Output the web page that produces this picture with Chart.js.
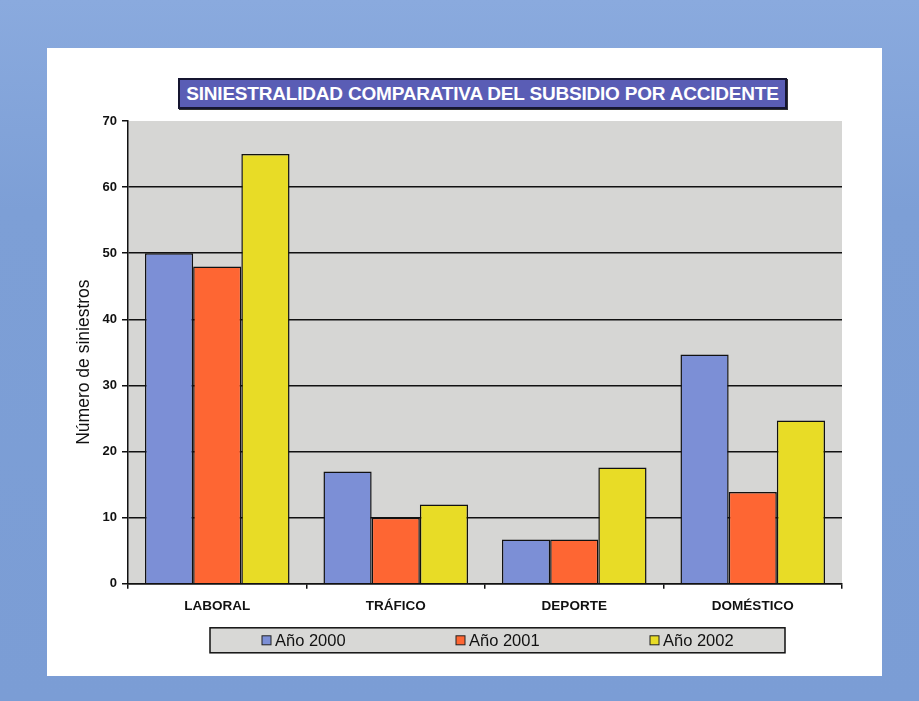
<!DOCTYPE html>
<html>
<head>
<meta charset="utf-8">
<script src="https://cdn.jsdelivr.net/npm/chart.js@4.4.1/dist/chart.umd.min.js"></script>
<style>
  html, body { margin: 0; padding: 0; }
  body {
    width: 919px; height: 701px; overflow: hidden; position: relative;
    background: linear-gradient(#8aaade, #7d9fd6 30%, #7b9dd5);
    font-family: "Liberation Sans", Arial, sans-serif;
  }
  #panel {
    position: absolute; left: 47px; top: 48px; width: 835px; height: 628px;
    background: #ffffff;
  }
  #title {
    position: absolute; left: 178px; top: 78px; width: 605px; height: 27px;
    background: #5a5db5; border: 2px solid #151530;
    box-shadow: 1px 1px 0 #333;
    color: #ffffff; font-weight: bold; font-size: 19px; line-height: 27px;
    text-align: center; white-space: nowrap; letter-spacing: -0.2px;
  }
  #chartBar { position: absolute; left: 0; top: 0; }
</style>
</head>
<body>
<div id="panel"></div>
<div id="title">SINIESTRALIDAD COMPARATIVA DEL SUBSIDIO POR ACCIDENTE</div>
<canvas id="chartBar" width="919" height="701"></canvas>
<script>
var categories = ["LABORAL", "TRÁFICO", "DEPORTE", "DOMÉSTICO"];
var seriesNames = ["Año 2000", "Año 2001", "Año 2002"];
var values2000 = [50, 17, 6.7, 34.7];
var values2001 = [48, 10, 6.7, 13.9];
var values2002 = [65, 12, 17.6, 24.7];
var yTicks = [0, 10, 20, 30, 40, 50, 60, 70];
var barColors = ["#7c8fd6", "#fe6633", "#e8dc26"];

var plotBackground = {
    id: "plotBackground",
    beforeDraw: function (chart) {
        var a = chart.chartArea;
        var ctx = chart.ctx;
        ctx.save();
        ctx.fillStyle = "#d6d6d4";
        ctx.fillRect(a.left, a.top, a.right - a.left, a.bottom - a.top);
        ctx.restore();
    }
};

// legend drawn in a framed grey box under the axis
var boxedLegend = {
    id: "boxedLegend",
    afterDraw: function (chart) {
        var a = chart.chartArea;
        var ctx = chart.ctx;
        var left = a.left + 82, right = a.right - 57;
        var top = a.bottom + 44, height = 25;
        ctx.save();
        ctx.fillStyle = "#d8d8d6";
        ctx.fillRect(left, top, right - left, height);
        ctx.strokeStyle = "#111";
        ctx.lineWidth = 1.5;
        ctx.strokeRect(left, top, right - left, height);
        ctx.font = "16.5px 'Liberation Sans', Arial, sans-serif";
        ctx.textBaseline = "middle";
        var step = 194;
        chart.data.datasets.forEach(function (ds, i) {
            var x = left + 52 + i * step;
            var y = top + height / 2;
            ctx.fillStyle = ds.backgroundColor;
            ctx.fillRect(x, y - 4.5, 9, 9);
            ctx.strokeStyle = "#222";
            ctx.lineWidth = 1;
            ctx.strokeRect(x, y - 4.5, 9, 9);
            ctx.fillStyle = "#111";
            ctx.fillText(ds.label, x + 13, y + 1);
        });
        ctx.restore();
    }
};

var ctx = document.getElementById("chartBar").getContext("2d");
var seriesValues = [values2000, values2001, values2002];

var chartData = {
    labels: categories,
    datasets: seriesNames.map(function (name, i) {
        return {
            label: name,
            data: seriesValues[i],
            backgroundColor: barColors[i],
            borderColor: "#111",
            borderWidth: 1.5,
            categoryPercentage: 0.81,
            barPercentage: 1.0
        };
    })
};

var myChart = new Chart(ctx, {
    type: "bar",
    data: chartData,
    plugins: [plotBackground, boxedLegend],
    options: {
        responsive: false,
        animation: false,
        layout: {
            padding: { left: 70, right: 77, top: 121, bottom: 78 }
        },
        plugins: {
            legend: { display: false },
            title: { display: false },
            tooltip: { enabled: false }
        },
        scales: {
            x: {
                grid: {
                    display: true,
                    drawOnChartArea: false,
                    drawTicks: true,
                    tickLength: 5,
                    color: "#111",
                    lineWidth: 1.5
                },
                border: { display: true, color: "#111", width: 1.5 },
                ticks: {
                    color: "#111",
                    padding: 9,
                    font: { family: "'Liberation Sans', Arial, sans-serif", size: 13.5, weight: "bold" }
                }
            },
            y: {
                min: 0,
                max: 70,
                afterBuildTicks: function (scale) {
                    scale.ticks = yTicks.map(function (v) { return { value: v }; });
                },
                afterFit: function (scale) {
                    scale.width = 58;
                },
                grid: {
                    color: function (c) {
                        return c.tick && c.tick.value === 70 ? "rgba(0,0,0,0)" : "#111";
                    },
                    tickColor: "#111",
                    lineWidth: 1.5,
                    drawTicks: true,
                    tickLength: 6
                },
                border: { display: true, color: "#111", width: 1.5 },
                ticks: {
                    color: "#111",
                    padding: 5,
                    font: { family: "'Liberation Sans', Arial, sans-serif", size: 13, weight: "bold" }
                },
                title: {
                    display: true,
                    text: "Número de siniestros    ",
                    color: "#111",
                    padding: { top: 4, bottom: 0 },
                    font: { family: "'Liberation Sans', Arial, sans-serif", size: 17.5 }
                }
            }
        }
    }
});
</script>
</body>
</html>
